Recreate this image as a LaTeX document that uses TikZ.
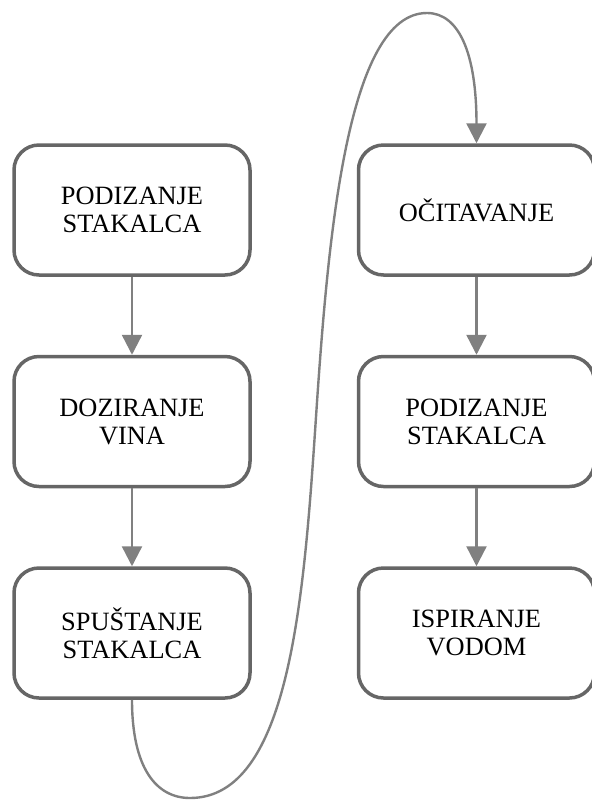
\documentclass[tikz,border=0pt]{standalone}
\usepackage{fontspec}
\setmainfont{Liberation Serif}
\usetikzlibrary{positioning,arrows.meta}
\definecolor{boxgray}{HTML}{666666}
\definecolor{linkgray}{HTML}{808080}

\begin{document}
\begin{tikzpicture}[
    box/.style={draw=boxgray, line width=1.75pt, rounded corners=12.5pt,
        minimum width=118pt, minimum height=65pt, align=center,
        font=\fontsize{13.2}{14}\selectfont},
    link/.style={draw=linkgray, line width=1.2pt,
        -{Triangle[width=10pt,length=10pt]}},
    node distance=39pt and 52.5pt]
    \useasboundingbox (0,0) rectangle (295.5pt,-400pt);
    \node[box] (a) at (66pt,-105pt) {PODIZANJE\\STAKALCA};
    \node[box, below=of a] (b) {DOZIRANJE\\VINA};
    \node[box, below=of b] (c) {SPUŠTANJE\\STAKALCA};
    \node[box, right=of a] (d) {OČITAVANJE};
    \node[box, below=of d] (e) {PODIZANJE\\STAKALCA};
    \node[box, below=of e] (f) {ISPIRANJE\\VODOM};
    \coordinate (bot) at (95pt,-399pt);
    \coordinate (mid) at (158pt,-208.5pt);
    \coordinate (top) at (213.5pt,-6.5pt);
    \draw[link] (a) -- (b);
    \draw[link] (b) -- (c);
    \draw[link] (d) -- (e);
    \draw[link] (e) -- (f);
    \draw[link] (c.south) .. controls +(0,-34pt) and +(-17pt,0) .. (bot)
        .. controls +(50pt,0) and +(-6pt,-90pt) .. (mid)
        .. controls +(6pt,90pt) and +(-40pt,0) .. (top)
        .. controls +(16pt,0) and +(0,45pt) .. (d.north);
\end{tikzpicture}
\end{document}
